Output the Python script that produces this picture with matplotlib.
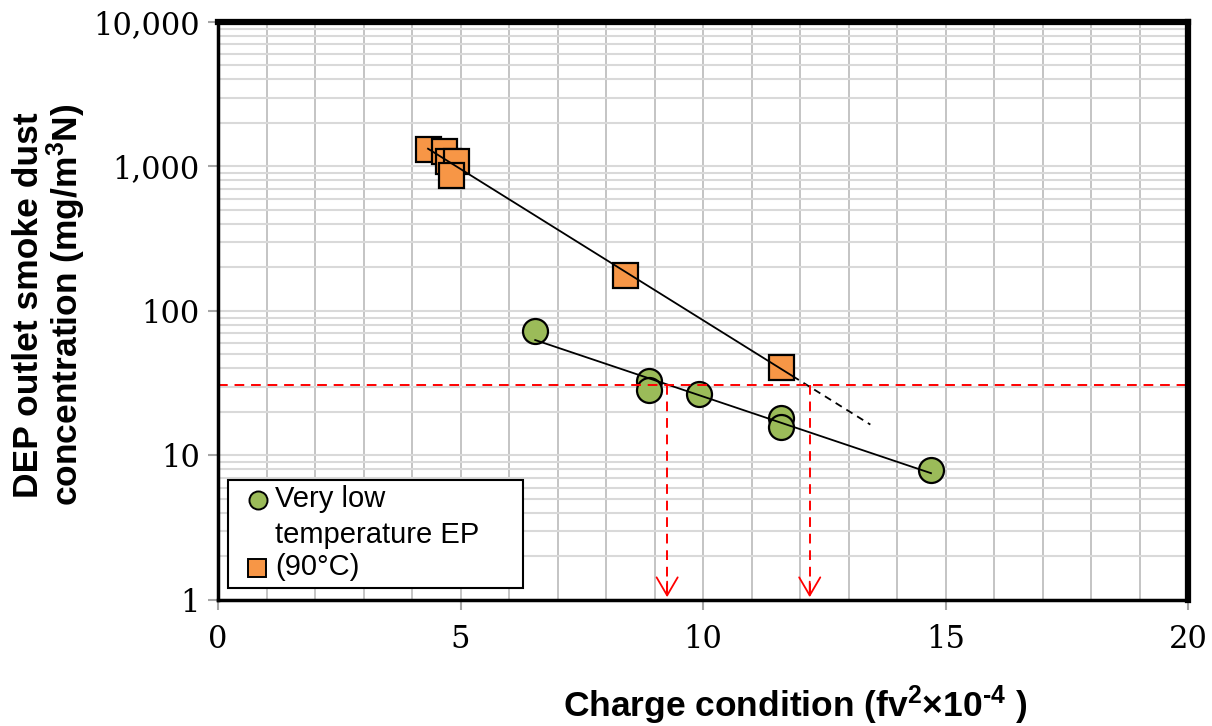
import numpy as np
import matplotlib
matplotlib.use('Agg')
import matplotlib.pyplot as plt
from matplotlib.patches import Rectangle

# data
ep90_x = [4.33, 4.65, 4.75, 4.9, 4.8, 8.39, 11.61]
ep90_y = [1320, 1290, 1100, 1100, 870, 177, 41]
low_x = [6.54, 8.89, 8.89, 9.92, 11.61, 11.61, 14.70]
low_y = [72.7, 32.8, 28.4, 26.7, 18.2, 15.7, 7.94]
limit_y = 30.5
cross_x = [9.26, 12.2]
ep90_solid_end = 11.85
ep90_dash_end = 13.45

x_ticks = [0, 5, 10, 15, 20]
y_ticks = [1, 10, 100, 1000, 10000]
y_labels = ['1', '10', '100', '1,000', '10,000']

plt.rcParams['mathtext.fontset'] = 'custom'
plt.rcParams['mathtext.rm'] = 'Liberation Sans:bold'
plt.rcParams['mathtext.it'] = 'Liberation Sans:bold'
plt.rcParams['mathtext.bf'] = 'Liberation Sans:bold'

fig = plt.figure(figsize=(12.12, 7.26), dpi=100)
ax = fig.add_axes([0.1799, 0.1736, 0.8003, 0.7961])
ax.set_yscale('log')
ax.set_xlim(0, 20)
ax.set_ylim(1, 10000)

# grid
for xv in range(1, 20):
    ax.axvline(xv, color='#bfbfbf', lw=1.3, zorder=0)
for dec in [1, 10, 100, 1000]:
    for m in range(1, 10):
        ax.axhline(dec * m, color='#d9d9d9', lw=1.5, zorder=0)

# trend lines (exponential fits)
k1 = np.polyfit(ep90_x, np.log10(ep90_y), 1)
xs = np.linspace(min(ep90_x), ep90_solid_end, 50)
ax.plot(xs, 10 ** np.polyval(k1, xs), color='black', lw=1.3, zorder=3)
xd = np.linspace(ep90_solid_end, ep90_dash_end, 20)
ax.plot(xd, 10 ** np.polyval(k1, xd), color='black', lw=1.3, ls=(0, (4, 3)), zorder=3)

k2 = np.polyfit(low_x, np.log10(low_y), 1)
xs2 = np.linspace(min(low_x), max(low_x), 50)
ax.plot(xs2, 10 ** np.polyval(k2, xs2), color='black', lw=1.3, zorder=3)

# points
ax.plot(ep90_x, ep90_y, 's', ms=18, mfc='#f79646', mec='black', mew=1.6,
        ls='none', zorder=2)
ax.plot(low_x, low_y, 'o', ms=18, mfc='#9bbb59', mec='black', mew=1.6,
        ls='none', zorder=2)

# limit lines
ax.axhline(limit_y, color='red', lw=1.4, ls=(0, (5, 3.5)), zorder=4)
for cx in cross_x:
    ax.plot([cx, cx], [limit_y, 1.02], color='red', lw=1.4, ls=(0, (5, 3.5)), zorder=4)
    ax.annotate('', xy=(cx, 1.0), xytext=(cx, 1.4),
                arrowprops=dict(arrowstyle='->, head_length=0.65, head_width=0.38',
                                color='red', lw=1.3, mutation_scale=20), zorder=4)

# frame
for s in ['top', 'right']:
    ax.spines[s].set_linewidth(4.5)
for s in ['left', 'bottom']:
    ax.spines[s].set_linewidth(2.5)
for s in ax.spines.values():
    s.set_color('black')
    s.set_zorder(5)

ax.set_xticks(x_ticks)
ax.set_xticklabels([str(v) for v in x_ticks])
ax.set_yticks(y_ticks)
ax.set_yticklabels(y_labels)
ax.yaxis.set_minor_locator(matplotlib.ticker.NullLocator())
ax.tick_params(axis='both', which='major', direction='out', length=7,
               width=1.5, color='#a6a6a6', labelsize=22)
ax.tick_params(axis='y', pad=6)
ax.tick_params(axis='x', pad=10)
for lab in ax.get_xticklabels() + ax.get_yticklabels():
    lab.set_family('DejaVu Serif')

# legend drawn by hand
ax.add_patch(Rectangle((0.0103, 0.0208), 0.3041, 0.1868, transform=ax.transAxes,
                       facecolor='white', edgecolor='black', lw=1.5, zorder=6))
ax.plot([0.0412], [0.173], 'o', ms=13, mfc='#9bbb59', mec='black', mew=1.4,
        transform=ax.transAxes, zorder=7, clip_on=False)
ax.plot([0.0402], [0.055], 's', ms=13, mfc='#f79646', mec='black', mew=1.4,
        transform=ax.transAxes, zorder=7, clip_on=False)
leg_font = dict(family='Liberation Sans', fontsize=21, zorder=7,
                transform=ax.transAxes, va='center', ha='left')
ax.text(0.0588, 0.175, 'Very low', **leg_font)
ax.text(0.0588, 0.112, 'temperature EP', **leg_font)
ax.text(0.0588, 0.057, '(90°C)', **leg_font)

fig.text(50 / 1212, 1 - 305 / 726,
         'DEP outlet smoke dust\nconcentration (mg/m$^{3}$N)',
         rotation=90, ha='center', va='center', multialignment='center',
         family='Liberation Sans', fontweight='bold', fontsize=25.5, linespacing=1.0)
fig.text(795 / 1212, 1 - 705 / 726, 'Charge condition (fv$^{2}$×10$^{\u20104}$ )',
         ha='center', va='center', family='Liberation Sans', fontweight='bold',
         fontsize=25.5)

fig.savefig('out.png', dpi=100)
